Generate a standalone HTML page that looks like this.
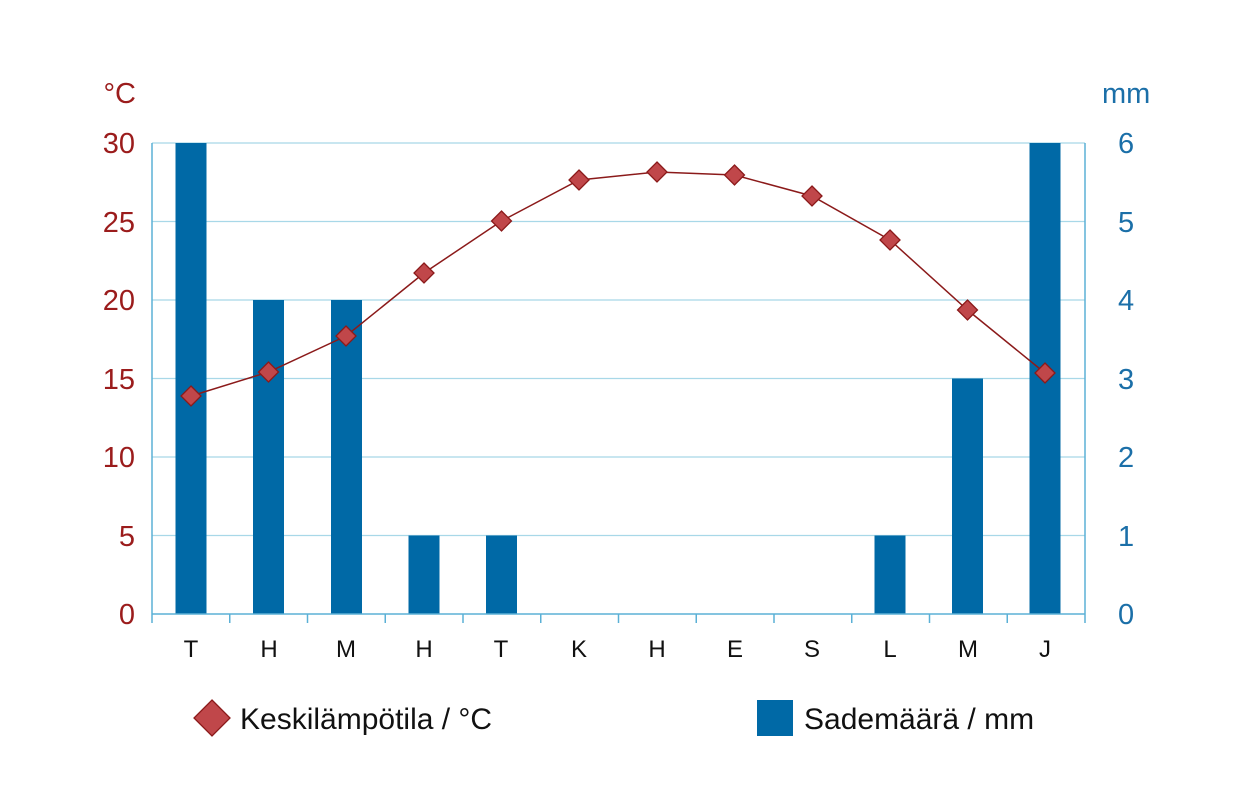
<!DOCTYPE html>
<html><head><meta charset="utf-8"><style>
html,body{margin:0;padding:0;background:#fff;}
svg{display:block;font-family:"Liberation Sans",Arial,sans-serif;}
</style></head><body>
<svg width="1237" height="800" viewBox="0 0 1237 800">
<g stroke="#a8d8e8" stroke-width="1.3">
<line x1="152" y1="143" x2="1085" y2="143"/>
<line x1="152" y1="221.5" x2="1085" y2="221.5"/>
<line x1="152" y1="300" x2="1085" y2="300"/>
<line x1="152" y1="378.5" x2="1085" y2="378.5"/>
<line x1="152" y1="457" x2="1085" y2="457"/>
<line x1="152" y1="535.5" x2="1085" y2="535.5"/>
</g>
<g fill="#0069a6">
<rect x="175.5" y="143" width="31" height="471"/>
<rect x="253" y="300" width="31" height="314"/>
<rect x="331" y="300" width="31" height="314"/>
<rect x="408.5" y="535.5" width="31" height="78.5"/>
<rect x="486" y="535.5" width="31" height="78.5"/>
<rect x="874.5" y="535.5" width="31" height="78.5"/>
<rect x="952" y="378.5" width="31" height="235.5"/>
<rect x="1029.5" y="143" width="31" height="471"/>
</g>
<g stroke="#5bb0d6" stroke-width="1.5" fill="none">
<line x1="152" y1="143" x2="152" y2="623"/>
<line x1="1085" y1="143" x2="1085" y2="623"/>
<line x1="152" y1="614" x2="1085" y2="614"/>
<line x1="229.75" y1="614" x2="229.75" y2="623"/>
<line x1="307.5" y1="614" x2="307.5" y2="623"/>
<line x1="385.25" y1="614" x2="385.25" y2="623"/>
<line x1="463" y1="614" x2="463" y2="623"/>
<line x1="540.75" y1="614" x2="540.75" y2="623"/>
<line x1="618.5" y1="614" x2="618.5" y2="623"/>
<line x1="696.25" y1="614" x2="696.25" y2="623"/>
<line x1="774" y1="614" x2="774" y2="623"/>
<line x1="851.75" y1="614" x2="851.75" y2="623"/>
<line x1="929.5" y1="614" x2="929.5" y2="623"/>
<line x1="1007.25" y1="614" x2="1007.25" y2="623"/>
</g>
<polyline fill="none" stroke="#8b1a1a" stroke-width="1.5" points="191,396 268.5,372 346,336 424,273 501.5,221 579,180 657,172 734.5,175 812,196 890,240 967.5,310 1045,373"/>
<g fill="#c0474a" stroke="#8b1a1a" stroke-width="1.3">
<path d="M191 386l10 10-10 10-10-10z"/>
<path d="M268.5 362l10 10-10 10-10-10z"/>
<path d="M346 326l10 10-10 10-10-10z"/>
<path d="M424 263l10 10-10 10-10-10z"/>
<path d="M501.5 211l10 10-10 10-10-10z"/>
<path d="M579 170l10 10-10 10-10-10z"/>
<path d="M657 162l10 10-10 10-10-10z"/>
<path d="M734.5 165l10 10-10 10-10-10z"/>
<path d="M812 186l10 10-10 10-10-10z"/>
<path d="M890 230l10 10-10 10-10-10z"/>
<path d="M967.5 300l10 10-10 10-10-10z"/>
<path d="M1045 363l10 10-10 10-10-10z"/>
</g>
<g fill="#9b1c1c" font-size="29" text-anchor="end">
<text x="135" y="153">30</text>
<text x="135" y="232">25</text>
<text x="135" y="310">20</text>
<text x="135" y="389">15</text>
<text x="135" y="467">10</text>
<text x="135" y="546">5</text>
<text x="135" y="624">0</text>
<text x="136" y="103">°C</text>
</g>
<g fill="#1b6fa8" font-size="29">
<text x="1118" y="153">6</text>
<text x="1118" y="232">5</text>
<text x="1118" y="310">4</text>
<text x="1118" y="389">3</text>
<text x="1118" y="467">2</text>
<text x="1118" y="546">1</text>
<text x="1118" y="624">0</text>
<text x="1102" y="103">mm</text>
</g>
<g fill="#111" font-size="24" text-anchor="middle">
<text x="191" y="657">T</text>
<text x="269" y="657">H</text>
<text x="346" y="657">M</text>
<text x="424" y="657">H</text>
<text x="501" y="657">T</text>
<text x="579" y="657">K</text>
<text x="657" y="657">H</text>
<text x="735" y="657">E</text>
<text x="812" y="657">S</text>
<text x="890" y="657">L</text>
<text x="968" y="657">M</text>
<text x="1045" y="657">J</text>
</g>
<path d="M212 700l18 18-18 18-18-18z" fill="#c0474a" stroke="#8b1a1a" stroke-width="1.3"/>
<text x="240" y="729" font-size="30" fill="#111">Keskilämpötila / °C</text>
<rect x="757" y="700" width="36" height="36" fill="#0069a6"/>
<text x="804" y="729" font-size="30" fill="#111">Sademäärä / mm</text>
</svg>
</body></html>
